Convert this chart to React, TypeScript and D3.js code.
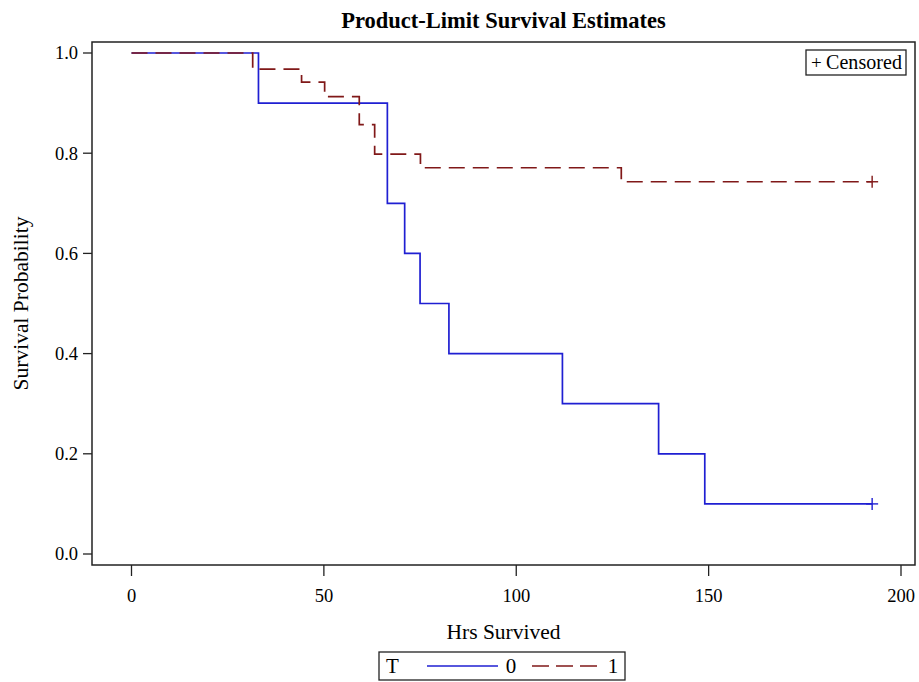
import React from 'react'
import * as d3 from 'd3'

// Kaplan-Meier steps
const groups = ['0', '1']
const times0 = [0, 33, 66.5, 71, 75, 82.5, 112, 137, 149]
const surv0 = [1, 0.9, 0.7, 0.6, 0.5, 0.4, 0.3, 0.2, 0.1]
const times1 = [0, 31.5, 44.2, 50.2, 59.2, 63.2, 75.1, 127.3]
const surv1 = [1, 0.968, 0.942, 0.913, 0.857, 0.798, 0.771, 0.743]
const lastTime = [192.5, 192.5] // censored at end
const xTicks = [0, 50, 100, 150, 200]
const yTicks = [0, 0.2, 0.4, 0.6, 0.8, 1.0]

const W = 919
const H = 682
const frame = { left: 92, right: 915, top: 42, bottom: 565 }
const font = '"Liberation Serif", "Times New Roman", serif'
const colors = ['#1f1fd2', '#801818']
const dashes = [null, '16,8']

const App = () => {
  const x = d3.scaleLinear([0, 200], [131.5, 901])
  const y = d3.scaleLinear([0, 1], [554, 53])

  const series = [
    { times: times0, surv: surv0 },
    { times: times1, surv: surv1 },
  ].map((s, i) => {
    const pts: [number, number][] = s.times.map((t, j) => [t, s.surv[j]])
    pts.push([lastTime[i], s.surv[s.surv.length - 1]])
    return pts
  })

  const line = d3.line<[number, number]>()
    .x(d => x(d[0]))
    .y(d => y(d[1]))
    .curve(d3.curveStepAfter)

  const midX = (frame.left + frame.right) / 2

  return (
    <svg width={W} height={H} style={{ position: 'absolute', left: 0, top: 0, fontFamily: font }}>
      <rect width={W} height={H} fill="#fff" />
      <text x={midX} y={28} textAnchor="middle" fontSize={22.5} fontWeight="bold">
        Product-Limit Survival Estimates
      </text>

      {/* survival curves */}
      {series.map((pts, i) => (
        <g key={groups[i]}>
          <path d={line(pts) || ''} fill="none" stroke={colors[i]} strokeWidth={1.7}
            strokeDasharray={dashes[i] || undefined} />
          {(() => {
            const [t, s] = pts[pts.length - 1]
            return (
              <g stroke={colors[i]} strokeWidth={1.4}>
                <line x1={x(t) - 6} x2={x(t) + 6} y1={y(s)} y2={y(s)} />
                <line x1={x(t)} x2={x(t)} y1={y(s) - 6} y2={y(s) + 6} />
              </g>
            )
          })()}
        </g>
      ))}

      {/* frame */}
      <rect x={frame.left} y={frame.top} width={frame.right - frame.left} height={frame.bottom - frame.top}
        fill="none" stroke="#222" strokeWidth={1.5} />

      {/* y axis */}
      {yTicks.map(v => (
        <g key={v}>
          <line x1={frame.left - 9} x2={frame.left} y1={y(v)} y2={y(v)} stroke="#222" strokeWidth={1.3} />
          <text x={frame.left - 14} y={y(v)} dy="0.35em" textAnchor="end" fontSize={18.5}>{d3.format('.1f')(v)}</text>
        </g>
      ))}
      <text transform={`translate(28,${(frame.top + frame.bottom) / 2}) rotate(-90)`} textAnchor="middle" fontSize={21.5}>
        Survival Probability
      </text>

      {/* x axis */}
      {xTicks.map(v => (
        <g key={v}>
          <line x1={x(v)} x2={x(v)} y1={frame.bottom} y2={frame.bottom + 11} stroke="#222" strokeWidth={1.3} />
          <text x={x(v)} y={596} dy="0.35em" textAnchor="middle" fontSize={18.5}>{v}</text>
        </g>
      ))}
      <text x={midX} y={639} textAnchor="middle" fontSize={21.5}>Hrs Survived</text>

      {/* censored legend */}
      <g>
        <rect x={806} y={50} width={100} height={25} fill="#fff" stroke="#222" strokeWidth={1.3} />
        <text x={811} y={69} fontSize={19}>+</text>
        <text x={826} y={69} fontSize={20} textLength={76}>Censored</text>
      </g>

      {/* group legend */}
      <g>
        <rect x={379} y={652} width={246} height={28} fill="#fff" stroke="#222" strokeWidth={1.3} />
        <text x={386} y={673} fontSize={21}>T</text>
        <line x1={427} x2={498} y1={666} y2={666} stroke={colors[0]} strokeWidth={1.6} />
        <text x={511} y={673} fontSize={21} textAnchor="middle">{groups[0]}</text>
        <line x1={532} x2={597} y1={666} y2={666} stroke={colors[1]} strokeWidth={1.6} strokeDasharray="17,7" />
        <text x={613} y={673} fontSize={21} textAnchor="middle">{groups[1]}</text>
      </g>
    </svg>
  )
}

export default App
